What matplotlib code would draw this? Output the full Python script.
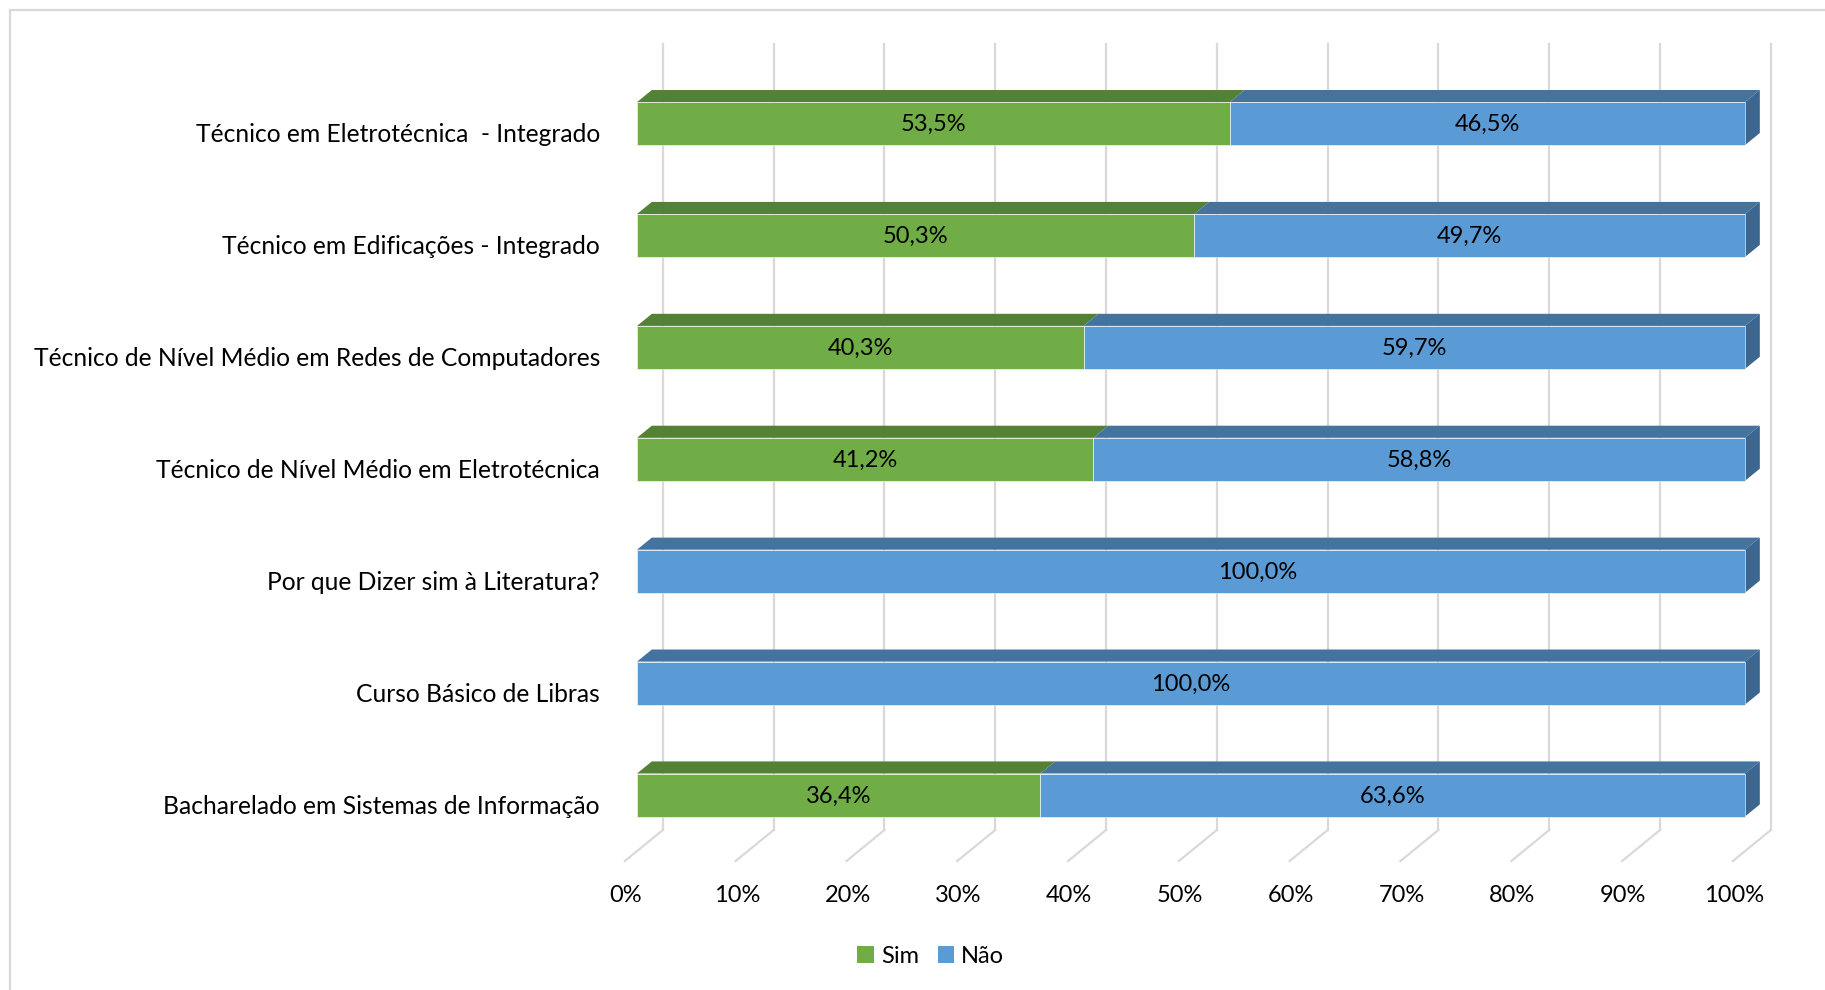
import matplotlib
matplotlib.use("Agg")
import matplotlib.pyplot as plt
from matplotlib.patches import Polygon, Patch
from matplotlib.lines import Line2D

# ---------------- data ----------------
categories = [
    "Bacharelado em Sistemas de Informação",
    "Curso Básico de Libras",
    "Por que Dizer sim à Literatura?",
    "Técnico de Nível Médio em Eletrotécnica",
    "Técnico de Nível Médio em Redes de Computadores",
    "Técnico em Edificações - Integrado",
    "Técnico em Eletrotécnica  - Integrado",
]
sim = [36.4, 0.0, 0.0, 41.2, 40.3, 50.3, 53.5]
nao = [63.6, 100.0, 100.0, 58.8, 59.7, 49.7, 46.5]
series_names = ["Sim", "Não"]
xticks = [0, 10, 20, 30, 40, 50, 60, 70, 80, 90, 100]

# ---------------- style ----------------
FONT = "Lato"
plt.rcParams["font.family"] = [FONT, "DejaVu Sans"]
W, H = 1825, 990
fig = plt.figure(figsize=(W / 100, H / 100), dpi=100)
ax = fig.add_axes([0, 0, 1, 1])
ax.set_axis_off()

PX_X = 11.08     # pixels per percent
PX_Y = 111.9     # pixels per category
X0_PX = 637      # front face 0%
Y0_PX = 195      # center of first category, from bottom
ax.set_xlim(-X0_PX / PX_X, (W - X0_PX) / PX_X)
ax.set_ylim(-Y0_PX / PX_Y, (H - Y0_PX) / PX_Y)

# depth vector (front of floor -> back wall), in data units
DX = 38 / PX_X
DY = 31 / PX_Y
BAR_FRONT = 0.32
BAR_BACK = 0.71
HALF_H = 21.5 / PX_Y
FLOOR_Y = -0.59
TOP_Y = 6.71

# manual nudge of one data label (as in the source chart)
label_nudge = {(2, "Não"): 6.0}

colors = {
    "Sim": ("#70AD47", "#548235", "#4E7A31"),
    "Não": ("#5B9BD5", "#44739E", "#3B6690"),
}
grid_c = "#D9D9D9"

# gridlines: back wall verticals + floor diagonals
for v in xticks:
    xb = v - BAR_FRONT * DX + DX
    ax.add_line(Line2D([xb, xb], [FLOOR_Y + DY, TOP_Y], color=grid_c, lw=1.6, zorder=1))
    ax.add_line(Line2D([xb, v - BAR_FRONT * DX], [FLOOR_Y + DY, FLOOR_Y],
                       color=grid_c, lw=1.6, zorder=1))
    ax.text(v - BAR_FRONT * DX + 0.1, -0.90, f"{v}%", ha="center", va="center",
            fontsize=17, color="#000000")

depth = BAR_BACK - BAR_FRONT
ddx, ddy = depth * DX, depth * DY

for i, cat in enumerate(categories):
    vals = [("Sim", sim[i]), ("Não", nao[i])]
    left = 0.0
    nonzero = [k for k, (_, v) in enumerate(vals) if v > 0]
    last = nonzero[-1]
    for k, (name, v) in enumerate(vals):
        if v <= 0:
            continue
        front, top, side = colors[name]
        x1 = left + v
        yb, yt = i - HALF_H, i + HALF_H
        # top face
        ax.add_patch(Polygon([(left, yt), (x1, yt), (x1 + ddx, yt + ddy), (left + ddx, yt + ddy)],
                             closed=True, facecolor=top, edgecolor="none", zorder=3))
        # right side face on last segment
        if k == last:
            ax.add_patch(Polygon([(x1, yb), (x1, yt), (x1 + ddx, yt + ddy), (x1 + ddx, yb + ddy)],
                                 closed=True, facecolor=side, edgecolor="none", zorder=3))
        # front face
        ax.barh(i, v, left=left, height=2 * HALF_H, color=front,
                edgecolor="#FFFFFF", linewidth=0.4, zorder=4)
        ax.text(left + v / 2 + label_nudge.get((i, name), 0.0), i - 0.01,
                f"{v:.1f}%".replace(".", ","), ha="center", va="center",
                fontsize=17, color="#000000", zorder=5)
        left = x1
    ax.text(-3.34, i - 0.10, cat, ha="right", va="center", fontsize=17.7, color="#000000")

# legend
handles = [Patch(facecolor=colors[n][0], edgecolor="none") for n in series_names]
fig.legend(handles, series_names, loc="center", bbox_to_anchor=(0.510, 0.0343), ncol=2,
           frameon=False, fontsize=17, handlelength=0.7, handleheight=0.7,
           handletextpad=0.3, columnspacing=0.8)

# outer border (top and left)
fig.add_artist(Line2D([10 / W, 10 / W], [0, 1 - 10 / H], transform=fig.transFigure,
                      color=grid_c, lw=1.6))
fig.add_artist(Line2D([10 / W, 1], [1 - 10 / H, 1 - 10 / H], transform=fig.transFigure,
                      color=grid_c, lw=1.6))

fig.savefig("out.png", dpi=100, facecolor="white")
